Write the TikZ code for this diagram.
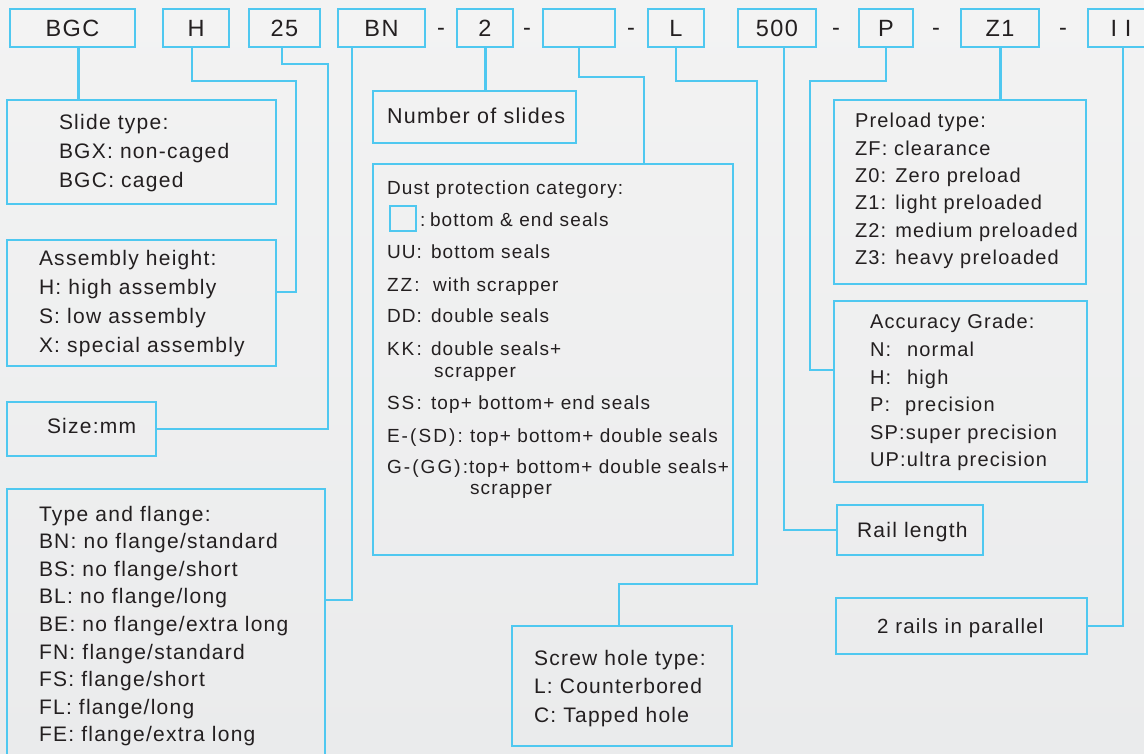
\documentclass[tikz,border=0pt]{standalone}
\usepackage{fontspec}
\setmainfont{Liberation Sans}[LetterSpace=6]
\newfontfamily\widefont{Liberation Sans}[LetterSpace=11]
\definecolor{lb}{RGB}{79,200,240}
\definecolor{tx}{RGB}{35,31,32}
\definecolor{bgtop}{RGB}{243,243,243}
\definecolor{bgbot}{RGB}{234,235,236}
\tikzset{
  box/.style={draw=lb, line width=2.2pt, anchor=north west, inner sep=0pt, outer sep=0pt},
  topbox/.style={box, minimum height=38pt, text=tx, font=\fontsize{23.5}{28}\selectfont},
  conn/.style={draw=lb, line width=2pt},
  thk/.style={draw=lb, line width=3pt},
  lbl/.style={anchor=base west, inner sep=0pt, outer sep=0pt, text=tx, font=\fontsize{21}{25}\selectfont},
  lblm/.style={lbl, font=\fontsize{20}{24}\selectfont},
  lbls/.style={lbl, font=\fontsize{19}{23}\selectfont},
  dashlbl/.style={anchor=base, inner sep=0pt, text=tx, font=\fontsize{23.5}{28}\selectfont}
}
\begin{document}
\begin{tikzpicture}[x=1pt,y=-1pt]
\useasboundingbox (0,0) rectangle (1144,754);
\clip (0,0) rectangle (1144,754);
\fill[top color=bgtop, bottom color=bgbot] (0,0) rectangle (1144,754);

% top row
\node[topbox, minimum width=125pt] (bgc) at (10,9) {BGC};
\node[topbox, minimum width=66pt] (hb) at (163,9) {H};
\node[topbox, minimum width=71pt] (b25) at (249,9) {25};
\node[topbox, minimum width=87pt] (bn) at (338,9) {BN};
\node[topbox, minimum width=56pt] (b2) at (457,9) {2};
\node[topbox, minimum width=72pt] (be) at (543,9) {};
\node[topbox, minimum width=56pt] (bl) at (648,9) {L};
\node[topbox, minimum width=78pt] (b500) at (738,9) {500};
\node[topbox, minimum width=54pt] (bp) at (859,9) {P};
\node[topbox, minimum width=78pt] (bz1) at (961,9) {Z1};
\node[topbox, minimum width=66pt] (bii) at (1088,9) {I I};
\node[dashlbl] (d1) at (441,36) {-};
\node[dashlbl] (d2) at (527,36) {-};
\node[dashlbl] (d3) at (631,36) {-};
\node[dashlbl] (d4) at (836,36) {-};
\node[dashlbl] (d5) at (936,36) {-};
\node[dashlbl] (d6) at (1063,36) {-};

% description boxes
\node[box, minimum width=269pt, minimum height=104pt] (slide) at (7,100) {};
\node[box, minimum width=269pt, minimum height=126pt] (asm) at (7,240) {};
\node[box, minimum width=149pt, minimum height=54pt] (size) at (7,402) {};
\node[box, minimum width=318pt, minimum height=290pt] (type) at (7,489) {};
\node[box, minimum width=203pt, minimum height=52pt] (nos) at (373,91) {};
\node[box, minimum width=360pt, minimum height=391pt] (dust) at (373,164) {};
\node[box, minimum width=220pt, minimum height=120pt] (screw) at (512,626) {};
\node[box, minimum width=252pt, minimum height=184pt] (pre) at (834,100) {};
\node[box, minimum width=253pt, minimum height=181pt] (acc) at (834,301) {};
\node[box, minimum width=146pt, minimum height=50pt] (rail) at (837,505) {};
\node[box, minimum width=251pt, minimum height=56pt] (rails) at (836,598) {};

% texts
\foreach \t [count=\i from 0] in {Slide type:,BGX: non-caged,BGC: caged}
  \node[lbl] (slide-t\i) at (59,{130+29*\i}) {\t};
\foreach \t [count=\i from 0] in {Assembly height:,H: high assembly,S: low assembly,X: special assembly}
  \node[lbl] (asm-t\i) at (39,{266+28.7*\i}) {\t};
\node[lbl] (size-t) at (47,433) {Size:mm};
\foreach \t [count=\i from 0] in {Type and flange:,BN: no flange/standard,BS: no flange/short,BL: no flange/long,BE: no flange/extra long,FN: flange/standard,FS: flange/short,FL: flange/long,FE: flange/extra long}
  \node[lbl] (type-t\i) at (39,{521+27.6*\i}) {\t};
\node[lbl, font=\fontsize{21.5}{25}\selectfont] (nos-t) at (387,124) {Number of slides};
\foreach \t [count=\i from 0] in {Screw hole type:,L: Counterbored,C: Tapped hole}
  \node[lbl] (screw-t\i) at (534,{665+28.5*\i}) {\t};
\foreach \t [count=\i from 0] in {Preload type:,ZF: clearance,Z0: Zero preload,Z1: light preloaded,Z2: medium preloaded,Z3: heavy preloaded}
  \node[lblm] (pre-t\i) at (855,{128+27.3*\i}) {\t};
\node[lblm] (acc-t0) at (870,329) {Accuracy Grade:};
\node[lblm] (acc-n) at (870,356.5) {N:};
\node[lblm] (acc-nt) at (907,356.5) {normal};
\node[lblm] (acc-h) at (870,384) {H:};
\node[lblm] (acc-ht) at (907,384) {high};
\node[lblm] (acc-p) at (870,411.5) {P:};
\node[lblm] (acc-pt) at (905,411.5) {precision};
\node[lblm] (acc-sp) at (870,439) {SP:super precision};
\node[lblm] (acc-up) at (870,466.5) {UP:ultra precision};
\node[lbl] (rail-t) at (857,537) {Rail length};
\node[lbl, font=\fontsize{20.5}{24}\selectfont] (rails-t) at (877,633) {2 rails in parallel};

% dust protection
\node[lbls] (dust-t0) at (387,195) {Dust protection category:};
\node[draw=lb, line width=2pt, anchor=north west, inner sep=0pt, minimum width=26pt, minimum height=25pt] (dsq) at (389,205) {};
\node[lbls] (dust-c1) at (420,227) {:};
\node[lbls] (dust-t1) at (430,227) {bottom \& end seals};
\node[lbls] (dust-l2) at (387,259) {UU:};
\node[lbls] (dust-t2) at (431,259) {bottom seals};
\node[lbls] (dust-l3) at (387,291) {\widefont ZZ:};
\node[lbls] (dust-t3) at (433,291) {with scrapper};
\node[lbls] (dust-l4) at (387,323) {DD:};
\node[lbls] (dust-t4) at (431,323) {double seals};
\node[lbls] (dust-l5) at (387,355) {\widefont KK:};
\node[lbls] (dust-t5) at (431,355) {double seals+};
\node[lbls] (dust-t5b) at (434,377) {scrapper};
\node[lbls] (dust-l6) at (387,409) {\widefont SS:};
\node[lbls] (dust-t6) at (431,409) {top+ bottom+ end seals};
\node[lbls] (dust-l7) at (387,442) {\widefont E-(SD):};
\node[lbls] (dust-t7) at (470,442) {top+ bottom+ double seals};
\node[lbls] (dust-l8) at (387,473) {\widefont G-(GG):};
\node[lbls] (dust-t8) at (469,473) {top+ bottom+ double seals+};
\node[lbls] (dust-t8b) at (470,494) {scrapper};

% connectors
\draw[thk] ([xshift=5.5pt]bgc.south) -- ([xshift=5.5pt]bgc.south |- slide.north);
\draw[conn] ([xshift=-4pt]hb.south) |- (296,81) |- ([yshift=11pt]asm.east);
\draw[conn] ([xshift=-2.5pt]b25.south) |- (328,64) |- (size.east);
\draw[conn] ([xshift=-29.5pt]bn.south) |- ([yshift=34pt]type.east);
\draw[thk] (b2.south) -- (b2.south |- nos.north);
\draw[conn] (be.south) -- ++(0,30) -| ([xshift=91pt]dust.north);
\draw[conn] (bl.south) |- (757,81) |- (619,584) -- ([xshift=-3pt]screw.north);
\draw[conn] ([xshift=7pt]b500.south) |- (rail.west);
\draw[conn] (bp.south) |- (810,81) |- ([yshift=21.5pt]acc.west);
\draw[thk] (bz1.south) -- (bz1.south |- pre.north);
\draw[conn] ([xshift=2pt]bii.south) |- (rails.east);
\end{tikzpicture}
\end{document}
